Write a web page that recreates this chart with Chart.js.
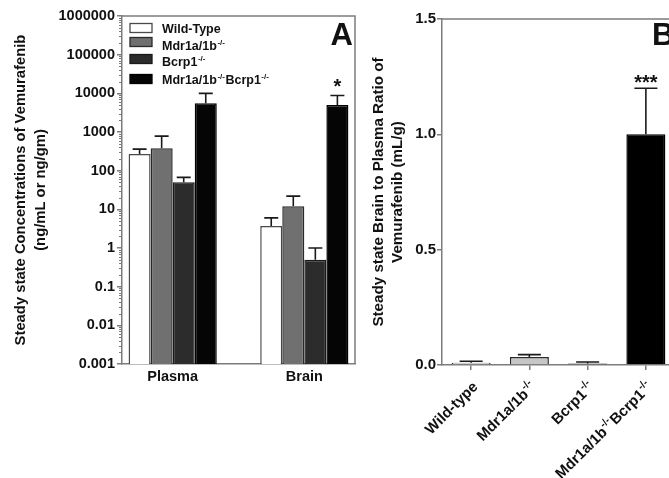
<!DOCTYPE html>
<html><head><meta charset="utf-8">
<script src="https://cdn.jsdelivr.net/npm/chart.js@4/dist/chart.umd.min.js"></script>
<style>
html,body{margin:0;padding:0;background:#fff;overflow:hidden;width:669px;height:478px;}
#wa{position:absolute;left:0;top:0;width:360px;height:478px;}
#wb{position:absolute;left:360px;top:0;width:330px;height:478px;}
</style></head><body>
<div id="wa"><canvas id="ca"></canvas></div>
<div id="wb"><canvas id="cb"></canvas></div>
<script>
// ---- Panel A data ----
const tissues = ['Plasma', 'Brain'];
const genotypesA = ['Wild-Type', 'Mdr1a/1b{-/-}', 'Bcrp1{-/-}', 'Mdr1a/1b{-/-}Bcrp1{-/-}'];
const wtConc = [270, 3.7];
const wtSem = [90, 2.3];
const mdrConc = [380, 12];
const mdrSem = [400, 10];
const bcrpConc = [50, 0.5];
const bcrpSem = [17, 0.5];
const tripleConc = [5500, 5000];
const tripleSem = [4500, 3800];
const tripleSig = ['', '*'];
const logTicks = [0.001, 0.01, 0.1, 1, 10, 100, 1000, 10000, 100000, 1000000];
const logTickLabels = ['0.001', '0.01', '0.1', '1', '10', '100', '1000', '10000', '100000', '1000000'];
const titleA = ['Steady state Concentrations of Vemurafenib', '(ng/mL or ng/gm)'];

// ---- Panel B data ----
const genotypesB = ['Wild-type', 'Mdr1a/1b{-/-}', 'Bcrp1{-/-}', 'Mdr1a/1b{-/-}Bcrp1{-/-}'];
const ratio = [0.010, 0.035, 0.006, 1.0];
const ratioSem = [0.006, 0.010, 0.007, 0.20];
const ratioSig = ['', '', '', '***'];
const ratioTicks = [0, 0.5, 1.0, 1.5];
const titleB = ['Steady state Brain to Plasma Ratio of', 'Vemurafenib (mL/g)'];

const FF = '"Liberation Sans", Arial, Helvetica, sans-serif';
const TXT = '#111';
const AX = '#7c7c7c';

function parts(s){
  return s.split(/(\{[^}]*\})/).filter(p=>p.length).map(p=>p[0]==='{'?{t:p.slice(1,-1),sup:true}:{t:p,sup:false});
}
function richWidth(ctx, s, size, supSize){
  let w=0;
  for(const p of parts(s)){ctx.font='bold '+(p.sup?supSize:size)+'px '+FF; w+=ctx.measureText(p.t).width + (p.sup?1:0);}
  return w;
}
function drawRich(ctx, s, x, y, size, supSize, align){
  const w = richWidth(ctx, s, size, supSize);
  let cx = align==='right' ? x - w : x;
  ctx.textAlign='left'; ctx.textBaseline='alphabetic';
  for(const p of parts(s)){
    ctx.font='bold '+(p.sup?supSize:size)+'px '+FF;
    ctx.fillText(p.t, cx + (p.sup?0.5:0), p.sup ? y - size*0.42 : y);
    cx += ctx.measureText(p.t).width + (p.sup?1:0);
  }
}
function drawErrors(chart, semKey){
  const ctx = chart.ctx; const ys = chart.scales.y;
  chart.data.datasets.forEach((ds, di)=>{
    const meta = chart.getDatasetMeta(di);
    meta.data.forEach((el, i)=>{
      const raw = ds.data[i]; const v = typeof raw==='object' ? raw.y : raw;
      const top = ys.getPixelForValue(v + ds[semKey][i]);
      const half = ds.capHalf;
      ctx.save(); ctx.strokeStyle='#1a1a1a'; ctx.lineWidth=1.6;
      ctx.beginPath(); ctx.moveTo(el.x, el.y); ctx.lineTo(el.x, top);
      ctx.moveTo(el.x-half, top); ctx.lineTo(el.x+half, top); ctx.stroke();
      if(ds.sig && ds.sig[i]){
        ctx.fillStyle=TXT; ctx.font='bold '+ds.sigSize+'px '+FF; ctx.textAlign='center'; ctx.textBaseline='alphabetic';
        ctx.fillText(ds.sig[i], el.x, top + ds.sigOff);
      }
      ctx.restore();
    });
  });
}
function drawTitle(ctx, lines, xs, cy, size){
  ctx.save(); ctx.fillStyle=TXT; ctx.font='bold '+size+'px '+FF; ctx.textAlign='center'; ctx.textBaseline='middle';
  lines.forEach((l,i)=>{ctx.save(); ctx.translate(xs[i], cy); ctx.rotate(-Math.PI/2); ctx.fillText(l,0,0); ctx.restore();});
  ctx.restore();
}

const fills = ['#ffffff', '#707070', '#2c2c2c', '#050505'];
const borders = ['#4a4a4a', '#2a2a2a', '#1a1a1a', '#000000'];
const concs = [wtConc, mdrConc, bcrpConc, tripleConc];
const sems = [wtSem, mdrSem, bcrpSem, tripleSem];

const pluginA = {
  id:'extrasA',
  afterDraw(chart){
    const ctx = chart.ctx; const a = chart.chartArea; const ys = chart.scales.y;
    ctx.save();
    ctx.strokeStyle=AX; ctx.lineWidth=1.5;
    ctx.beginPath(); ctx.moveTo(a.left, a.top); ctx.lineTo(a.right, a.top); ctx.lineTo(a.right, a.bottom); ctx.stroke();
    ctx.lineWidth=1;
    for(let k=0;k<logTicks.length-1;k++){
      for(let m=2;m<=9;m++){
        const y = Math.round(ys.getPixelForValue(logTicks[k]*m))+0.5;
        ctx.beginPath(); ctx.moveTo(a.left-3, y); ctx.lineTo(a.left, y); ctx.stroke();
      }
    }
    ctx.restore();
    drawErrors(chart, 'sem');
    ctx.save();
    const boxY = [28, 42, 59, 79]; const txtY = [33, 50, 66, 84];
    genotypesA.forEach((g,i)=>{
      ctx.fillStyle=fills[i]; ctx.strokeStyle=borders[i]; ctx.lineWidth=1.3;
      ctx.fillRect(130, boxY[i]-4.5, 22, 9); ctx.strokeRect(130, boxY[i]-4.5, 22, 9);
      ctx.fillStyle=TXT;
      drawRich(ctx, g, 162, txtY[i], 12.5, 8, 'left');
    });
    ctx.font='bold 31px '+FF; ctx.fillStyle=TXT; ctx.textAlign='right'; ctx.textBaseline='alphabetic';
    ctx.fillText('A', 353, 45);
    ctx.restore();
    drawTitle(ctx, titleA, [21, 41], 190, 14.8);
  }
};

new Chart(document.getElementById('ca'), {
  type:'bar',
  data:{
    datasets: genotypesA.map((g,i)=>({
      label: g.replace(/[{}]/g,''),
      data: tissues.map((t,j)=>({x:j, y:concs[i][j]})),
      sem: sems[i],
      capHalf: 7,
      sig: i===3 ? tripleSig : null, sigSize: 20, sigOff: -2,
      backgroundColor: fills[i], borderColor: borders[i], borderWidth: 1.5,
      categoryPercentage: 0.67, barPercentage: 1.0
    }))
  },
  options:{
    responsive:true, maintainAspectRatio:false, animation:false,
    layout:{padding:{left:0, top:16, right:5, bottom:0}},
    plugins:{legend:{display:false}, tooltip:{enabled:false}},
    scales:{
      x:{
        type:'linear', min:-0.385, max:1.385, offset:false,
        afterBuildTicks:(s)=>{ s.ticks = tissues.map((t,i)=>({value:i})); },
        afterFit:(s)=>{ s.height = 114; },
        ticks:{ callback:(v,i)=>tissues[i], font:{family:FF, size:14.5, weight:'bold'}, color:TXT, padding:4, maxRotation:0, autoSkip:false },
        grid:{ display:true, drawOnChartArea:false, drawTicks:false },
        border:{ color:AX, width:1.5 }
      },
      y:{
        type:'logarithmic', min:0.001, max:1000000,
        afterBuildTicks:(s)=>{ s.ticks = logTicks.map(v=>({value:v, major:true})); },
        afterFit:(s)=>{ s.width = 122; },
        ticks:{ callback:(v,i)=>logTickLabels[i], font:{family:FF, size:14.5, weight:'bold'}, color:TXT, padding:2, autoSkip:false },
        grid:{ drawOnChartArea:false, drawTicks:true, tickLength:5, color:AX, lineWidth:1.5 },
        border:{ color:AX, width:1.5 }
      }
    }
  },
  plugins:[pluginA]
});

const fillsB = ['#ffffff', '#c6c6c6', '#333333', '#000000'];
const bordersB = ['#3a3a3a', '#2a2a2a', '#1a1a1a', '#000000'];

const pluginB = {
  id:'extrasB',
  afterDraw(chart){
    const ctx = chart.ctx; const a = chart.chartArea; const xs = chart.scales.x;
    ctx.save();
    ctx.strokeStyle=AX; ctx.lineWidth=1.5;
    ctx.beginPath(); ctx.moveTo(a.left, a.top); ctx.lineTo(a.right, a.top); ctx.lineTo(a.right, a.bottom); ctx.stroke();
    ctx.restore();
    drawErrors(chart, 'sem');
    ctx.save(); ctx.fillStyle=TXT;
    genotypesB.forEach((g,i)=>{
      const x = xs.getPixelForTick(i);
      ctx.save(); ctx.translate(x+4, a.bottom+19); ctx.rotate(-Math.PI/4);
      drawRich(ctx, g, 0, 5, 15, 10.5, 'right');
      ctx.restore();
    });
    ctx.font='bold 31px '+FF; ctx.textAlign='left'; ctx.textBaseline='alphabetic';
    ctx.fillText('B', 292, 45);
    ctx.restore();
    drawTitle(ctx, titleB, [19, 38], 192, 15.2);
  }
};

new Chart(document.getElementById('cb'), {
  type:'bar',
  data:{
    labels: genotypesB.map(g=>g.replace(/[{}]/g,'')),
    datasets:[{
      data: ratio, sem: ratioSem, capHalf: 11.5,
      sig: ratioSig, sigSize: 20, sigOff: 1,
      backgroundColor: fillsB, borderColor: bordersB, borderWidth: 1.5,
      categoryPercentage: 1.0, barPercentage: 0.67
    }]
  },
  options:{
    responsive:true, maintainAspectRatio:false, animation:false,
    layout:{padding:{left:0, top:19, right:15, bottom:0}},
    plugins:{legend:{display:false}, tooltip:{enabled:false}},
    scales:{
      x:{
        offset:true,
        afterFit:(s)=>{ s.height = 113; },
        ticks:{ display:false },
        grid:{ display:true, drawOnChartArea:false, drawTicks:true, tickLength:5, color:AX, lineWidth:1.5, offset:false },
        border:{ color:AX, width:1.5 }
      },
      y:{
        min:0, max:1.5,
        afterBuildTicks:(s)=>{ s.ticks = ratioTicks.map(v=>({value:v})); },
        afterFit:(s)=>{ s.width = 82; },
        ticks:{ callback:(v)=>Number(v).toFixed(1), font:{family:FF, size:15, weight:'bold'}, color:TXT, padding:1 },
        grid:{ drawOnChartArea:false, drawTicks:true, tickLength:5, color:AX, lineWidth:1.5 },
        border:{ color:AX, width:1.5 }
      }
    }
  },
  plugins:[pluginB]
});
</script>
</body></html>
